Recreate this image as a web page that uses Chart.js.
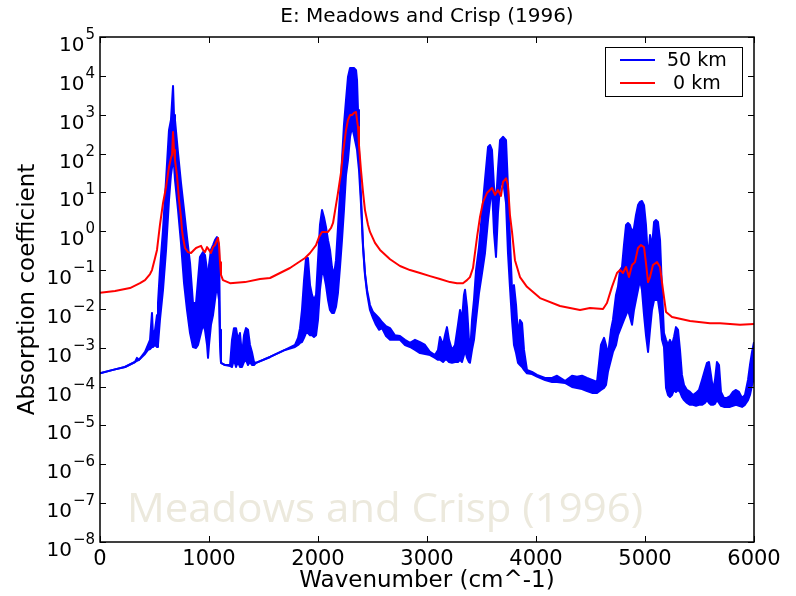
<!DOCTYPE html>
<html>
<head>
<meta charset="utf-8">
<title>E: Meadows and Crisp (1996)</title>
<script src="https://cdn.jsdelivr.net/npm/chart.js@4.4.1/dist/chart.umd.min.js"></script>
<style>
  html, body { margin: 0; padding: 0; background: #fff; }
  canvas { display: block; }
</style>
</head>
<body>
<canvas id="myChart" width="796" height="596"></canvas>
<script>
// Axis ticks
const xTicks = [0, 1000, 2000, 3000, 4000, 5000, 6000];
const yTicks = [1e-8, 1e-7, 1e-6, 1e-5, 1e-4, 1e-3, 1e-2, 1e-1, 1e0, 1e1, 1e2, 1e3, 1e4, 1e5];
const yTickExponents = ["\u22128", "\u22127", "\u22126", "\u22125", "\u22124", "\u22123", "\u22122", "\u22121", "0", "1", "2", "3", "4", "5"];

// 0 km curve (red)
const redWavenumber = [
  0, 138, 275, 367, 413, 459, 477, 505, 523, 550, 578, 606, 633, 651, 661, 670, 679, 688, 706, 725,
  743, 752, 761, 780, 807, 835, 862, 881, 899, 927, 945, 963, 982, 1000, 1018, 1037, 1055, 1073, 1083, 1092,
  1101, 1110, 1128, 1193, 1330, 1468, 1560, 1743, 1881, 1927, 1982, 2009, 2037, 2092, 2119, 2138, 2165, 2183, 2211, 2229,
  2257, 2275, 2294, 2312, 2330, 2349, 2358, 2367, 2376, 2394, 2413, 2431, 2459, 2477, 2523, 2569, 2661, 2752, 2844, 2936,
  3028, 3119, 3211, 3275, 3330, 3367, 3394, 3422, 3459, 3486, 3514, 3550, 3596, 3624, 3651, 3679, 3697, 3725, 3743, 3761,
  3780, 3807, 3853, 3917, 4037, 4220, 4404, 4495, 4615, 4651, 4697, 4743, 4771, 4798, 4826, 4853, 4881, 4908, 4936, 4963,
  4991, 5009, 5028, 5046, 5073, 5110, 5138, 5165, 5193, 5248, 5413, 5596, 5688, 5872, 6000
];
const redAbsorption = [
  0.026, 0.029, 0.0345, 0.046, 0.055, 0.079, 0.1, 0.205, 0.33, 1.45, 5.3, 13.8, 45, 77, 92, 360, 124, 68, 28, 6.4,
  2.3, 1.08, 0.71, 0.37, 0.29, 0.275, 0.33, 0.37, 0.39, 0.42, 0.33, 0.29, 0.39, 0.33, 0.275, 0.39, 0.44, 0.59, 0.67, 0.44,
  0.16, 0.075, 0.055, 0.046, 0.049, 0.059, 0.0625, 0.113, 0.205, 0.275, 0.44, 0.71, 0.96, 0.96, 1.21, 1.63, 4.7, 9.6, 32, 103,
  400, 730, 980, 980, 1110, 1170, 730, 480, 166, 38, 10.2, 3.5, 1.45, 0.96, 0.5, 0.33, 0.19, 0.127, 0.1, 0.084,
  0.07, 0.059, 0.049, 0.046, 0.046, 0.055, 0.066, 0.113, 0.71, 2.3, 5.7, 9.6, 13, 8.6, 11.5, 8.1, 18.5, 23, 15.5, 2.6,
  0.96, 0.18, 0.066, 0.037, 0.019, 0.0119, 0.0094, 0.0106, 0.00996, 0.0142, 0.037, 0.084, 0.1, 0.084, 0.12, 0.066, 0.135, 0.16, 0.37, 0.44,
  0.39, 0.152, 0.049, 0.066, 0.135, 0.16, 0.12, 0.031, 0.0083, 0.0062, 0.0049, 0.0043, 0.0043, 0.0039, 0.0041
];

// 50 km curve (blue): a dense line, read as the top and bottom edge of its band
const blueWavenumber = [
  0, 119, 229, 321, 339, 358, 413, 440, 459, 477, 486, 505, 523, 532, 550, 578, 606, 633, 651, 670,
  679, 688, 716, 743, 771, 798, 826, 853, 881, 899, 917, 945, 963, 982, 991, 1000, 1018, 1037, 1055, 1073,
  1092, 1101, 1110, 1147, 1193, 1211, 1229, 1248, 1266, 1284, 1303, 1321, 1339, 1358, 1376, 1394, 1413, 1431, 1560, 1697,
  1789, 1817, 1835, 1853, 1872, 1890, 1908, 1927, 1945, 1963, 1982, 2000, 2018, 2037, 2055, 2073, 2092, 2110, 2128, 2147,
  2165, 2183, 2202, 2220, 2238, 2257, 2275, 2294, 2312, 2330, 2349, 2358, 2367, 2376, 2394, 2413, 2431, 2450, 2477, 2505,
  2532, 2560, 2587, 2624, 2661, 2706, 2752, 2798, 2844, 2890, 2936, 2982, 3028, 3073, 3101, 3119, 3147, 3165, 3183, 3202,
  3229, 3257, 3284, 3303, 3321, 3339, 3349, 3367, 3385, 3394, 3413, 3431, 3450, 3477, 3505, 3532, 3560, 3578, 3596, 3615,
  3633, 3651, 3670, 3697, 3725, 3743, 3761, 3780, 3798, 3817, 3835, 3853, 3872, 3890, 3917, 3963, 4009, 4083, 4147, 4193,
  4266, 4330, 4376, 4422, 4468, 4514, 4560, 4596, 4624, 4642, 4660, 4688, 4706, 4734, 4752, 4771, 4789, 4807, 4826, 4844,
  4862, 4881, 4899, 4917, 4936, 4954, 4972, 4991, 5009, 5028, 5046, 5064, 5083, 5101, 5119, 5138, 5156, 5174, 5193, 5211,
  5229, 5248, 5266, 5284, 5303, 5321, 5339, 5358, 5385, 5413, 5440, 5468, 5495, 5523, 5550, 5569, 5587, 5605, 5624, 5642,
  5660, 5679, 5697, 5724, 5752, 5780, 5807, 5835, 5862, 5890, 5917, 5945, 5963, 5982, 6000
];
const blueHigh = [
  0.00022, 0.00027, 0.00032, 0.00043, 0.00055, 0.00049, 0.00078, 0.00118, 0.0016, 0.0079, 0.0021, 0.0029, 0.007, 0.0142, 0.1, 1.08, 21, 400, 730, 5500,
  980, 730, 103, 17.5, 3.5, 0.71, 0.152, 0.0142, 0.0142, 0.055, 0.217, 0.29, 0.245, 0.1, 0.031, 0.135, 0.33, 0.44, 0.59, 0.71,
  0.44, 0.0029, 0.00041, 0.00036, 0.00036, 0.0016, 0.0032, 0.0032, 0.0016, 0.0024, 0.00065, 0.0021, 0.0032, 0.0029, 0.00118, 0.00078, 0.00043, 0.00041, 0.00058, 0.00088,
  0.00118, 0.0018, 0.0032, 0.0094, 0.055, 0.205, 0.205, 0.041, 0.023, 0.017, 0.023, 0.18, 1.45, 3.5, 2.3, 1.29, 0.59, 0.33, 0.12, 0.075,
  0.18, 1.21, 9.6, 68, 540, 2400, 9300, 15900, 15900, 15900, 14000, 7800, 1320, 124, 8.6, 0.44, 0.084, 0.031, 0.0126, 0.0083,
  0.007, 0.0058, 0.0046, 0.0036, 0.0032, 0.0021, 0.002, 0.0016, 0.00133, 0.0016, 0.0014, 0.00118, 0.00078, 0.00065, 0.00088, 0.0019, 0.00118, 0.0021, 0.0034, 0.0016,
  0.00088, 0.00118, 0.0039, 0.0094, 0.0052, 0.023, 0.031, 0.0112, 0.0016, 0.00065, 0.0052, 0.017, 0.1, 0.39, 2.95, 21, 148, 166, 124, 13.8,
  5.3, 38, 220, 270, 220, 13.8, 0.71, 0.031, 0.041, 0.0126, 0.0021, 0.0052, 0.0043, 0.00088, 0.00027, 0.00024, 0.0002, 0.000167, 0.000167, 0.00019,
  0.00014, 0.00019, 0.00018, 0.00019, 0.000167, 0.000148, 0.000132, 0.00118, 0.0018, 0.00118, 0.00065, 0.0029, 0.0052, 0.023, 0.037, 0.1, 0.12, 0.44, 1.45, 1.63,
  1.45, 0.96, 1.21, 2.6, 4.7, 5.7, 6.0, 4.7, 1.45, 0.18, 0.8, 0.39, 1.73, 1.95, 1.73, 0.59, 0.031, 0.0024, 0.0016, 0.00118,
  0.0016, 0.00118, 0.0019, 0.0034, 0.0029, 0.00088, 0.0002, 0.00011, 0.000082, 0.000073, 0.000061, 0.000069, 0.000082, 0.000148, 0.00027, 0.00041, 0.00043, 0.0002, 0.000082, 0.000148,
  0.00043, 0.00036, 0.000073, 0.000051, 0.000051, 0.000057, 0.000073, 0.000082, 0.000073, 0.000051, 0.000061, 0.000148, 0.00036, 0.00078, 0.0014
];
const blueLow = [
  0.00022, 0.00027, 0.00032, 0.00043, 0.00046, 0.00049, 0.00069, 0.00088, 0.00093, 0.00105, 0.00105, 0.00118, 0.00105, 0.00118, 0.0052, 0.031, 0.33, 6.4, 28, 68,
  51, 21, 3.5, 0.5, 0.046, 0.0094, 0.0024, 0.00105, 0.00099, 0.00118, 0.0019, 0.0039, 0.0029, 0.00118, 0.00055, 0.00118, 0.0039, 0.007, 0.017, 0.041,
  0.017, 0.00118, 0.00041, 0.00036, 0.00034, 0.00032, 0.00049, 0.00032, 0.00043, 0.00032, 0.00032, 0.00043, 0.00049, 0.00036, 0.00043, 0.00036, 0.00036, 0.00041, 0.00058, 0.00088,
  0.00105, 0.00118, 0.00133, 0.0014, 0.0018, 0.0024, 0.0024, 0.0021, 0.0021, 0.0019, 0.0021, 0.0052, 0.031, 0.089, 0.075, 0.041, 0.017, 0.0094, 0.0079, 0.0079,
  0.0112, 0.0257, 0.12, 0.59, 3.5, 28, 68, 270, 480, 300, 166, 124, 68, 38, 5.3, 0.39, 0.075, 0.0257, 0.0094, 0.0058,
  0.0039, 0.0029, 0.0032, 0.002, 0.0016, 0.0016, 0.0016, 0.00118, 0.00105, 0.00088, 0.00073, 0.00069, 0.00065, 0.00055, 0.00049, 0.00049, 0.00043, 0.00049, 0.00049, 0.00043,
  0.00041, 0.00043, 0.00043, 0.00049, 0.00043, 0.00065, 0.00088, 0.00055, 0.00043, 0.00041, 0.00088, 0.0016, 0.0052, 0.0257, 0.084, 0.275, 1.95, 5.3, 13.8, 0.9,
  0.217, 2.95, 13.8, 21, 5.3, 0.275, 0.037, 0.0052, 0.00118, 0.00073, 0.00041, 0.00036, 0.00032, 0.00027, 0.00022, 0.00021, 0.00018, 0.000148, 0.000132, 0.000132,
  0.000124, 0.000098, 0.000092, 0.000087, 0.000077, 0.000069, 0.000069, 0.000082, 0.000092, 0.00011, 0.00024, 0.00049, 0.00078, 0.00118, 0.0021, 0.0029, 0.0039, 0.0052, 0.007, 0.0094,
  0.0062, 0.0039, 0.0094, 0.017, 0.031, 0.055, 0.031, 0.007, 0.0021, 0.00078, 0.0029, 0.0094, 0.017, 0.017, 0.017, 0.007, 0.0016, 0.00105, 0.000092, 0.000061,
  0.000054, 0.000061, 0.000082, 0.000073, 0.000082, 0.000073, 0.000054, 0.000045, 0.000038, 0.000034, 0.000034, 0.000032, 0.000034, 0.000034, 0.000038, 0.000045, 0.000038, 0.000034, 0.000034, 0.000036,
  0.000045, 0.000038, 0.000032, 0.00003, 0.00003, 0.00003, 0.000032, 0.000034, 0.000032, 0.00003, 0.000034, 0.000045, 0.000061, 0.00011, 0.000167
];

const watermarkText = "Meadows and Crisp (1996)";

function toPoints(xs, ys) {
  return xs.map((x, i) => ({ x: x, y: ys[i] }));
}

const textFont = "'DejaVu Sans', sans-serif";

// frame with inward ticks on all four sides, and the 10^n labels
const frameAndTicks = {
  id: "frameAndTicks",
  afterDatasetsDraw(chart) {
    const { ctx, chartArea: a, scales } = chart;
    const x = scales.x;
    const y = scales.y;
    ctx.save();
    ctx.strokeStyle = "#000";
    ctx.lineWidth = 1;
    ctx.beginPath();
    xTicks.forEach((v) => {
      const px = Math.round(x.getPixelForValue(v)) + 0.5;
      ctx.moveTo(px, a.top);
      ctx.lineTo(px, a.top + 6);
      ctx.moveTo(px, a.bottom);
      ctx.lineTo(px, a.bottom - 6);
    });
    yTicks.forEach((v) => {
      const py = Math.round(y.getPixelForValue(v)) + 0.5;
      ctx.moveTo(a.left, py);
      ctx.lineTo(a.left + 6, py);
      ctx.moveTo(a.right, py);
      ctx.lineTo(a.right - 6, py);
    });
    ctx.stroke();
    ctx.lineWidth = 1.5;
    ctx.strokeRect(a.left, a.top, a.right - a.left, a.bottom - a.top);

    ctx.fillStyle = "#000";
    ctx.textAlign = "right";
    ctx.textBaseline = "alphabetic";
    yTicks.forEach((v, i) => {
      const py = y.getPixelForValue(v);
      ctx.font = "15px " + textFont;
      const w = ctx.measureText(yTickExponents[i]).width;
      ctx.fillText(yTickExponents[i], a.left - 5, py + 2);
      ctx.font = "20px " + textFont;
      ctx.fillText("10", a.left - 6 - w, py + 14);
    });
    ctx.restore();
  },
};

// legend box in the top right corner of the plot
const boxLegend = {
  id: "boxLegend",
  afterDraw(chart) {
    const { ctx, chartArea: a } = chart;
    const entries = chart.data.datasets.filter((d) => d.label);
    const left = a.right - 149;
    const top = a.top + 10;
    ctx.save();
    ctx.fillStyle = "#fff";
    ctx.fillRect(left, top, 137, 49);
    ctx.strokeStyle = "#000";
    ctx.lineWidth = 1;
    ctx.strokeRect(left + 0.5, top + 0.5, 137, 49);
    ctx.font = "19px " + textFont;
    ctx.textAlign = "left";
    ctx.textBaseline = "middle";
    entries.forEach((d, i) => {
      const ly = top + 13 + i * 23;
      ctx.strokeStyle = d.borderColor;
      ctx.lineWidth = 2;
      ctx.beginPath();
      ctx.moveTo(left + 15, ly);
      ctx.lineTo(left + 50, ly);
      ctx.stroke();
      ctx.fillStyle = "#000";
      ctx.fillText(d.label, left + 62, ly + 1.5);
    });
    ctx.restore();
  },
};

// faint caption behind the curves
const watermark = {
  id: "watermark",
  beforeDatasetsDraw(chart) {
    const { ctx, chartArea: a } = chart;
    ctx.save();
    ctx.font = "40px 'Open Sans', sans-serif";
    ctx.fillStyle = "#ece9dd";
    ctx.textAlign = "left";
    ctx.textBaseline = "alphabetic";
    const w = ctx.measureText(watermarkText).width;
    ctx.translate(a.left + 27, a.bottom - 20);
    ctx.scale(516 / w, 1);
    ctx.fillText(watermarkText, 0, 0);
    ctx.restore();
  },
};

new Chart(document.getElementById("myChart"), {
  type: "line",
  data: {
    datasets: [
      {
        label: "50 km",
        data: toPoints(blueWavenumber, blueHigh),
        borderColor: "#0000ff",
        borderWidth: 2,
        fill: false,
        order: 1,
      },
      {
        label: "",
        data: toPoints(blueWavenumber, blueLow),
        borderColor: "#0000ff",
        backgroundColor: "#0000ff",
        borderWidth: 2,
        fill: "-1",
        order: 1,
      },
      {
        label: " 0 km",
        data: toPoints(redWavenumber, redAbsorption),
        borderColor: "#ff0000",
        borderWidth: 2,
        fill: false,
        order: 0,
      },
    ],
  },
  options: {
    responsive: false,
    animation: false,
    elements: {
      point: { radius: 0 },
      line: { tension: 0, borderJoinStyle: "round" },
    },
    layout: { padding: { left: 0, right: 42, top: 0, bottom: 0 } },
    plugins: {
      legend: { display: false },
      tooltip: { enabled: false },
      title: {
        display: true,
        fullSize: false,
        text: "E: Meadows and Crisp (1996)",
        color: "#000",
        font: { family: textFont, size: 20, weight: "normal" },
        padding: { top: 5, bottom: 8 },
      },
    },
    scales: {
      x: {
        type: "linear",
        min: 0,
        max: 6000,
        afterBuildTicks: (s) => {
          s.ticks = xTicks.map((v) => ({ value: v }));
        },
        afterFit: (s) => {
          s.height = 54;
        },
        grid: { display: false, drawTicks: false },
        border: { display: false },
        ticks: {
          color: "#000",
          font: { family: textFont, size: 21 },
          padding: 5,
          maxRotation: 0,
          autoSkip: false,
          callback: (v) => String(v),
        },
        title: {
          display: true,
          text: "Wavenumber (cm^-1)",
          color: "#000",
          font: { family: textFont, size: 23 },
          padding: { top: 0, bottom: 1 },
        },
      },
      y: {
        type: "logarithmic",
        min: 1e-8,
        max: 1e5,
        afterBuildTicks: (s) => {
          s.ticks = yTicks.map((v) => ({ value: v }));
        },
        afterFit: (s) => {
          s.width = 100;
        },
        grid: { display: false, drawTicks: false },
        border: { display: false },
        ticks: { display: false },
        title: {
          display: true,
          text: "Absorption coefficient",
          color: "#000",
          font: { family: textFont, size: 23 },
          padding: { top: 14, bottom: 0 },
        },
      },
    },
  },
  plugins: [watermark, frameAndTicks, boxLegend],
});
</script>
</body>
</html>
